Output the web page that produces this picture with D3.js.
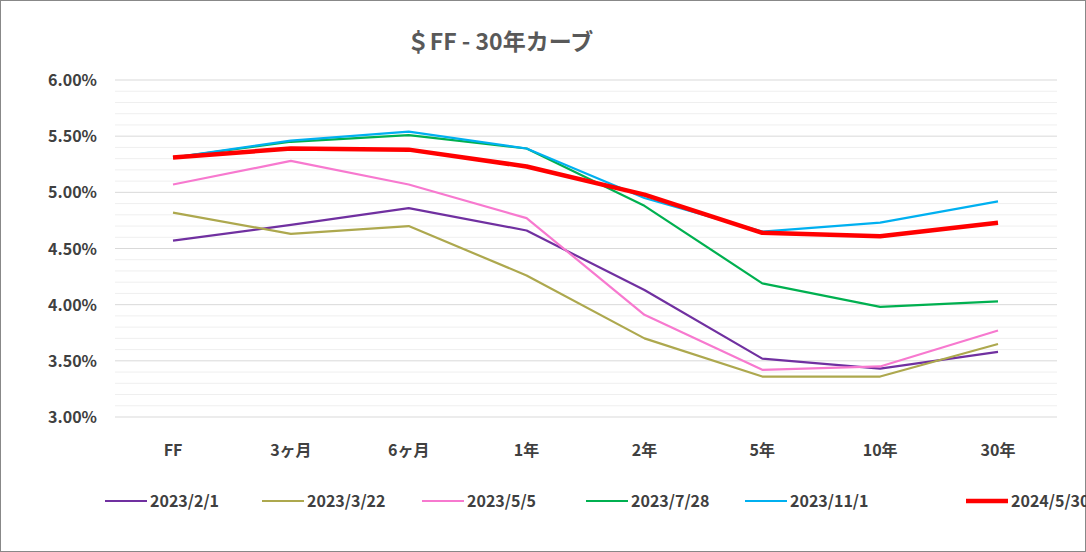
<!DOCTYPE html>
<html><head><meta charset="utf-8">
<script src="https://cdn.jsdelivr.net/npm/d3@7"></script>
<style>body{margin:0;background:#fff;font-family:"Noto Sans CJK JP","Noto Sans",sans-serif}</style>
</head><body>
<svg id="c" width="1086" height="552"></svg>
<script>
// data
const categories = ["FF", "3ヶ月", "6ヶ月", "1年", "2年", "5年", "10年", "30年"];
const seriesNames = ["2023/2/1", "2023/3/22", "2023/5/5", "2023/7/28", "2023/11/1", "2024/5/30"];
const s20230201 = [4.57, 4.71, 4.86, 4.66, 4.13, 3.52, 3.43, 3.58];
const s20230322 = [4.82, 4.63, 4.70, 4.26, 3.70, 3.36, 3.36, 3.65];
const s20230505 = [5.07, 5.28, 5.07, 4.77, 3.91, 3.42, 3.45, 3.77];
const s20230728 = [5.31, 5.45, 5.51, 5.39, 4.88, 4.19, 3.98, 4.03];
const s20231101 = [5.31, 5.46, 5.54, 5.39, 4.95, 4.65, 4.73, 4.92];
const s20240530 = [5.31, 5.39, 5.38, 5.23, 4.98, 4.64, 4.61, 4.73];
const yTicks = [3.0, 3.5, 4.0, 4.5, 5.0, 5.5, 6.0];

const series = [s20230201, s20230322, s20230505, s20230728, s20231101, s20240530];
const colors = ["#7030A0", "#ADA84E", "#F779CF", "#00B050", "#00B0F0", "#FF0000"];
const widths = [2.2, 2.2, 2.2, 2.2, 2.2, 4.5];

const svg = d3.select("#c");
svg.append("rect").attr("x", 0.5).attr("y", 0.5).attr("width", 1085).attr("height", 551)
  .attr("fill", "#fff").attr("stroke", "#888");

const x = d3.scalePoint().domain(categories).range([173, 998]);
const y = d3.scaleLinear().domain([3, 6]).range([417, 80]);

// minor gridlines
d3.range(30, 61).forEach(v => {
  svg.append("line").attr("x1", 115).attr("x2", 1057)
    .attr("y1", y(v / 10)).attr("y2", y(v / 10))
    .attr("stroke", v % 5 === 0 ? "#d9d9d9" : "#efefef").attr("stroke-width", 1);
});

svg.append("g").selectAll("text").data(yTicks).join("text")
  .attr("x", 97).attr("y", d => y(d) + 6).attr("text-anchor", "end")
  .attr("font-size", 16).attr("font-weight", "bold").attr("fill", "#404040").text(d => d.toFixed(2) + "%");

svg.append("g").selectAll("text").data(categories).join("text")
  .attr("x", d => x(d)).attr("y", 456).attr("text-anchor", "middle")
  .attr("font-size", 16).attr("font-weight", "bold").attr("fill", "#404040").text(d => d);

svg.append("text").attr("x", 500).attr("y", 50).attr("text-anchor", "middle")
  .attr("font-size", 23).attr("font-weight", "bold").attr("fill", "#595959").text("＄FF - 30年カーブ");

const line = d3.line().x((d, i) => x(categories[i])).y(d => y(d));
series.forEach((s, k) => {
  svg.append("path").datum(s).attr("d", line).attr("fill", "none")
    .attr("stroke", colors[k]).attr("stroke-width", widths[k]).attr("stroke-linejoin", "round");
});

// legend
const lx = [105, 262, 422, 586, 745, 966];
seriesNames.forEach((n, k) => {
  svg.append("line").attr("x1", lx[k]).attr("x2", lx[k] + 42).attr("y1", 501).attr("y2", 501)
    .attr("stroke", colors[k]).attr("stroke-width", widths[k]);
  svg.append("text").attr("x", lx[k] + 45).attr("y", 507).attr("font-size", 16)
    .attr("font-weight", "bold").attr("fill", "#404040").text(n);
});
</script>
</body></html>
